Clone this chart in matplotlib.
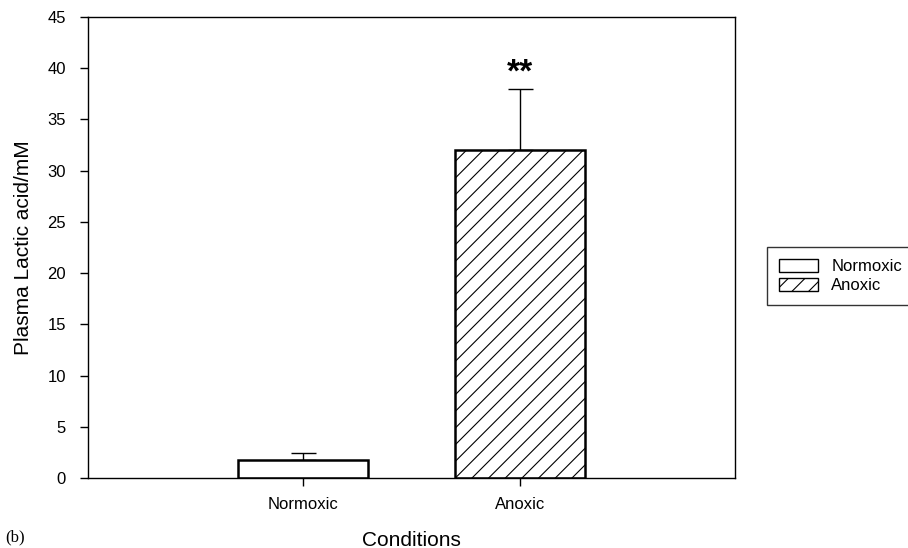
import matplotlib
matplotlib.use('Agg')
import matplotlib.pyplot as plt
from matplotlib.patches import Patch
import numpy as np

plt.rcParams['font.family'] = ['Liberation Sans', 'DejaVu Sans']
plt.rcParams['hatch.linewidth'] = 0.8

conditions = ['Normoxic', 'Anoxic']
lactic = [1.76, 32.0]
lactic_err = [0.68, 6.0]
hatches = ['', '//']
yticks = [0, 5, 10, 15, 20, 25, 30, 35, 40, 45]

fig = plt.figure(figsize=(9.08, 5.48), dpi=100)
ax = fig.add_axes([0.0969, 0.1277, 0.7126, 0.8412])

x = np.arange(len(conditions))
for i in range(len(conditions)):
    ax.bar(x[i], lactic[i], width=0.6, color='white', edgecolor='black',
           linewidth=1.8, hatch=hatches[i], zorder=2)
    # only upper error bar
    ax.errorbar(x[i], lactic[i], yerr=[[0], [lactic_err[i]]], fmt='none',
                ecolor='black', elinewidth=1, capsize=9, capthick=1, zorder=1)

ax.text(x[1], lactic[1] + lactic_err[1] + 0.7, '**', ha='center', va='baseline',
        fontsize=24, fontweight='bold')

ax.set_xlim(-0.99, 1.99)
ax.set_ylim(0, 45)
ax.set_yticks(yticks)
ax.set_xticks(x)
ax.set_xticklabels(conditions)
ax.tick_params(direction='out', length=6, width=1, labelsize=12)
ax.tick_params(axis='y', pad=10)
ax.tick_params(axis='x', pad=8)
ax.set_ylabel('Plasma Lactic acid/mM', fontsize=15, labelpad=10)
ax.set_xlabel('Conditions', fontsize=15, labelpad=13)
for s in ax.spines.values():
    s.set_linewidth(1)

handles = [Patch(facecolor='white', edgecolor='black', linewidth=1, hatch=h)
           for h in hatches]
fig.legend(handles=handles, labels=conditions, loc='upper left',
           bbox_to_anchor=(0.8447, 0.549), frameon=True, fancybox=False,
           edgecolor='black', fontsize=12, handlelength=2.35, handleheight=0.8,
           handletextpad=0.8, borderpad=0.7, labelspacing=0.25, borderaxespad=0)

fig.text(0.006, 0.012, '(b)', family='Liberation Serif', fontsize=12)

fig.savefig('out.png', dpi=100)
